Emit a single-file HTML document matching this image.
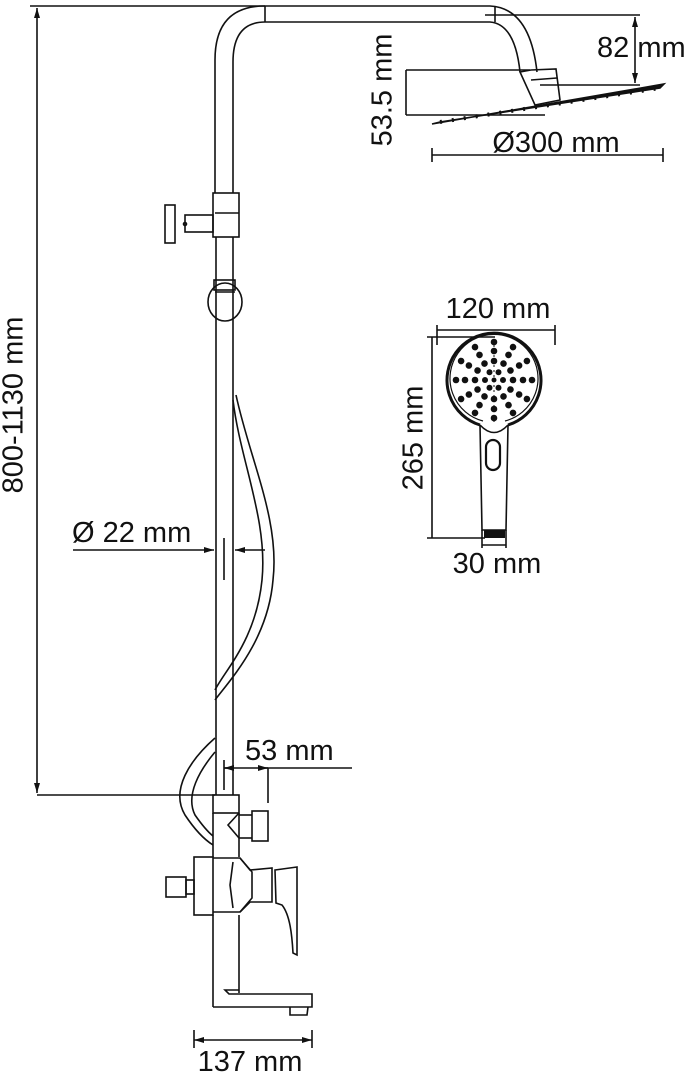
<!DOCTYPE html>
<html><head><style>
html,body{margin:0;padding:0;background:#fff;}
svg{display:block;}
text{font-family:"Liberation Sans",sans-serif;font-size:29px;fill:#111;}
</style></head><body>
<svg width="696" height="1076" viewBox="0 0 696 1076" xmlns="http://www.w3.org/2000/svg">
<defs>
<marker id="a" viewBox="0 0 10 6" refX="10" refY="3" markerWidth="11" markerHeight="6" orient="auto-start-reverse" markerUnits="userSpaceOnUse"><path d="M0,0L10,3L0,6z" fill="#111"/></marker>
<g id="sp"><circle cx="19" cy="0" r="3.3"/><circle cx="29" cy="0" r="3.3"/><circle cx="38" cy="0" r="3.3"/></g>
</defs>
<g fill="none" stroke="#111" stroke-width="1.6">
<line x1="30" y1="6" x2="265" y2="6"/>
<line x1="37" y1="8" x2="37" y2="793" marker-start="url(#a)" marker-end="url(#a)"/>
<line x1="37" y1="795" x2="215" y2="795"/>
<path d="M215,193 L215,60 Q215,6 265,6 L490,6 Q530,8 537,72"/>
<path d="M233,193 L233,62 Q233,22 265,22 L490,22 Q515,24 520,72"/>
<line x1="265" y1="6" x2="265" y2="22"/>
<line x1="495" y1="6" x2="495" y2="22"/>
<path d="M520,72 L531,70 L556,69 L560,100 L535,105 Z"/>
<line x1="531" y1="80" x2="557" y2="78"/>
<path d="M432,124 L664,84 L660,88 L440,122 Z" fill="#111"/>
<path d="M440,122 L660,88" stroke-dasharray="2,10" stroke-width="4"/>
<line x1="485" y1="15" x2="640" y2="15"/>
<line x1="540" y1="85" x2="640" y2="85"/>
<line x1="635" y1="17" x2="635" y2="83" marker-start="url(#a)" marker-end="url(#a)"/>
<line x1="406" y1="70" x2="530" y2="70"/>
<line x1="406" y1="115" x2="545" y2="115"/>
<line x1="406" y1="70" x2="406" y2="115"/>
<line x1="432" y1="155" x2="663" y2="155"/>
<line x1="432" y1="148" x2="432" y2="162"/>
<line x1="663" y1="148" x2="663" y2="162"/>
<rect x="213" y="193" width="26" height="44"/>
<line x1="215" y1="213" x2="239" y2="213"/>
<rect x="185" y="215" width="28" height="17"/>
<rect x="165" y="205" width="10" height="38"/>
<circle cx="185" cy="224" r="1.5"/>
<line x1="216" y1="237" x2="216" y2="795"/>
<line x1="233" y1="237" x2="233" y2="795"/>
<rect x="214" y="280" width="21" height="10"/>
<ellipse cx="225" cy="302" rx="17" ry="19"/>
<line x1="215" y1="292" x2="235" y2="292"/>
<path d="M236,395 C250,460 280,520 273,580 C268,640 230,680 215,700"/>
<path d="M233,400 C240,460 268,520 262,580 C256,640 225,670 215,690"/>
<path d="M215,738 C190,760 170,790 185,815 C195,830 205,840 213,845"/>
<path d="M215,752 C200,770 185,795 195,815 C202,825 208,832 213,836"/>
<line x1="73" y1="550" x2="214" y2="550" marker-end="url(#a)"/>
<line x1="265" y1="550" x2="235" y2="550" marker-end="url(#a)"/>
<line x1="224" y1="538" x2="224" y2="580"/>
<line x1="224" y1="768" x2="352" y2="768"/>
<line x1="224" y1="768" x2="232" y2="768" marker-start="url(#a)"/>
<line x1="258" y1="768" x2="268" y2="768" marker-end="url(#a)"/>
<line x1="224" y1="760" x2="224" y2="790"/>
<line x1="268" y1="768" x2="268" y2="803"/>
<rect x="213" y="795" width="26" height="18"/>
<line x1="213" y1="813" x2="213" y2="857"/>
<line x1="239" y1="813" x2="239" y2="857"/>
<path d="M239,813 L228,825 L239,838"/>
<rect x="252" y="811" width="16" height="30"/>
<line x1="239" y1="815" x2="252" y2="815"/>
<line x1="239" y1="838" x2="252" y2="838"/>
<rect x="194" y="857" width="19" height="58"/>
<rect x="166" y="877" width="20" height="20"/>
<rect x="186" y="880" width="8" height="14"/>
<path d="M213,858 L240,858 L252,872 L252,898 L240,912 L213,912"/>
<path d="M240,858 L250,870 L272,868 L272,902 L250,902 L240,912"/>
<path d="M233,862 L230,885 L233,908" />
<path d="M275,870 L297,867 L297,955 L293,953 C292,935 290,915 282,905 L276,903 Z"/>
<line x1="213" y1="915" x2="213" y2="1007"/>
<line x1="239" y1="915" x2="239" y2="993"/>
<path d="M213,1007 L312,1007 L312,994 L229,994 L225,990 L239,990"/>
<path d="M290,1007 L290,1015 L307,1015 L308,1007"/>
<line x1="194" y1="1030" x2="194" y2="1048"/>
<line x1="312" y1="1030" x2="312" y2="1048"/>
<line x1="194" y1="1040" x2="312" y2="1040" marker-start="url(#a)" marker-end="url(#a)"/>
<line x1="437" y1="330" x2="555" y2="330"/>
<line x1="437" y1="325" x2="437" y2="345"/>
<line x1="555" y1="325" x2="555" y2="345"/>
<line x1="427" y1="337" x2="495" y2="337"/>
<line x1="427" y1="538" x2="485" y2="538"/>
<line x1="432" y1="337" x2="432" y2="538"/>
<path d="M480,425 A47,47 0 1 1 508,425" stroke-width="3"/>
<path d="M483,421 A44,44 0 1 1 505,421" stroke-width="1.2"/>
<path d="M480,425 Q494,440 508,425"/>
<path d="M480,425 L482,530 L506,530 L508,425"/>
<rect x="486" y="440" width="14" height="30" rx="7" stroke-width="2.2"/>
<line x1="482" y1="530" x2="482" y2="548"/>
<line x1="506" y1="530" x2="506" y2="548"/>
<line x1="482" y1="545" x2="506" y2="545"/>
<line x1="494" y1="340" x2="494" y2="425" stroke-dasharray="2,3" stroke-width="1"/>
</g>
<rect x="484" y="530" width="21" height="8" fill="#111"/>
<g fill="#111" transform="translate(494,380)">
<circle cx="0" cy="0" r="2.5"/>
<circle cx="9" cy="0" r="3"/><circle cx="4.5" cy="7.8" r="3"/><circle cx="-4.5" cy="7.8" r="3"/><circle cx="-9" cy="0" r="3"/><circle cx="-4.5" cy="-7.8" r="3"/><circle cx="4.5" cy="-7.8" r="3"/>
<use href="#sp"/>
<use href="#sp" transform="rotate(30)"/>
<use href="#sp" transform="rotate(60)"/>
<use href="#sp" transform="rotate(90)"/>
<use href="#sp" transform="rotate(120)"/>
<use href="#sp" transform="rotate(150)"/>
<use href="#sp" transform="rotate(180)"/>
<use href="#sp" transform="rotate(210)"/>
<use href="#sp" transform="rotate(240)"/>
<use href="#sp" transform="rotate(270)"/>
<use href="#sp" transform="rotate(300)"/>
<use href="#sp" transform="rotate(330)"/>
</g>
<text x="15" y="405" text-anchor="middle" transform="rotate(-90 15 405)" dominant-baseline="middle">800-1130 mm</text>
<text x="597" y="57">82 mm</text>
<text x="384" y="90" text-anchor="middle" transform="rotate(-90 384 90)" dominant-baseline="middle">53.5 mm</text>
<text x="556" y="152" text-anchor="middle">Ø300 mm</text>
<text x="498" y="318" text-anchor="middle">120 mm</text>
<text x="415" y="438" text-anchor="middle" transform="rotate(-90 415 438)" dominant-baseline="middle">265 mm</text>
<text x="497" y="573" text-anchor="middle">30 mm</text>
<text x="72" y="542">Ø 22 mm</text>
<text x="245" y="760">53 mm</text>
<text x="250" y="1071" text-anchor="middle">137 mm</text>
</svg>
</body></html>
